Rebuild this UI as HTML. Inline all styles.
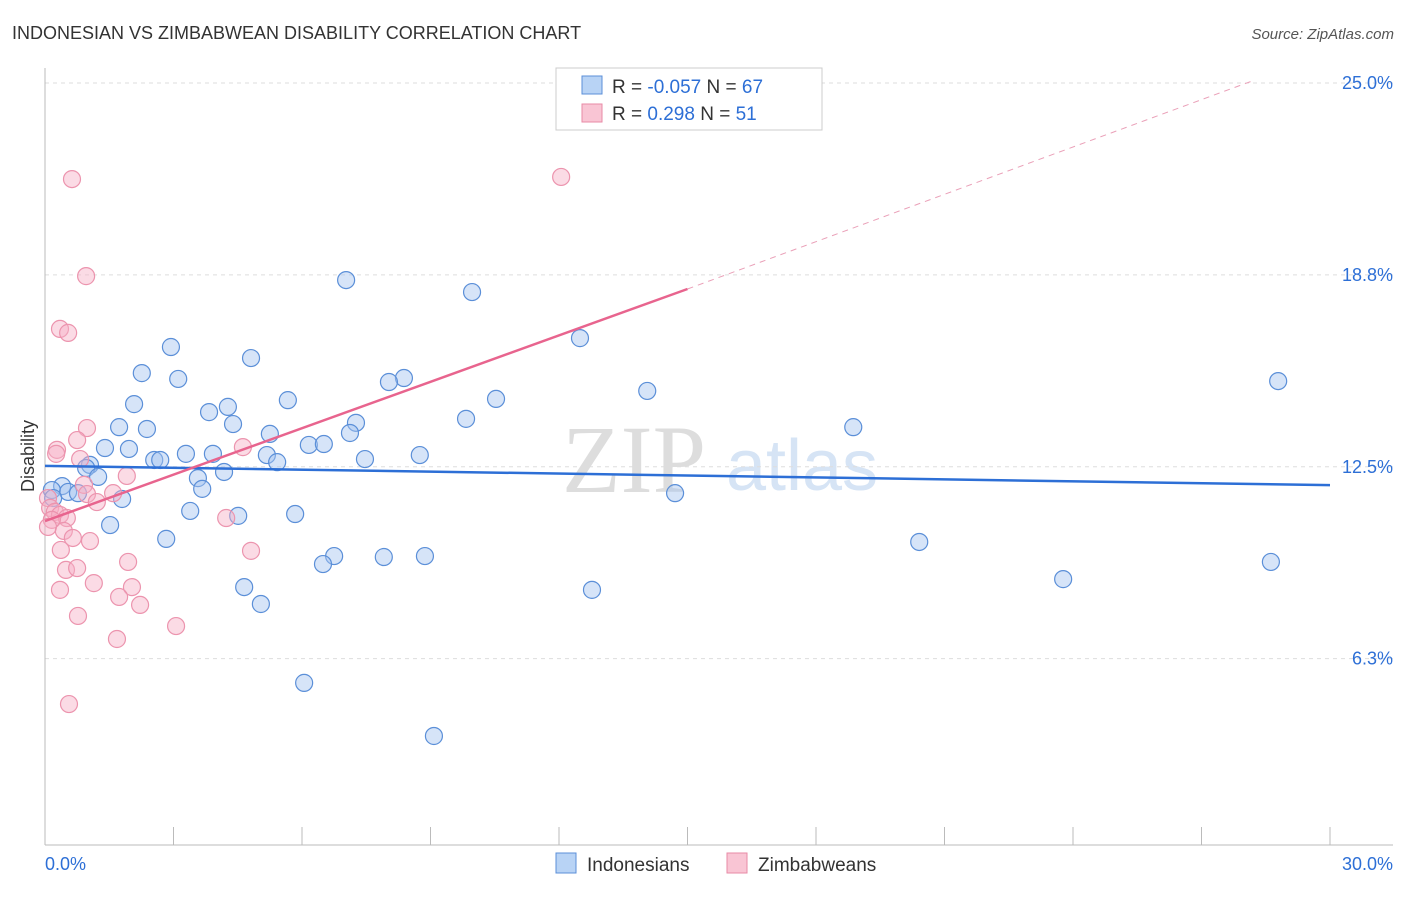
<!DOCTYPE html>
<html><head><meta charset="utf-8"><style>
body{margin:0;background:#fff;font-family:"Liberation Sans",sans-serif}
</style></head><body>
<svg width="1406" height="892" xmlns="http://www.w3.org/2000/svg" id="chart" style="font-family:'Liberation Sans',sans-serif">
<text x="12" y="39" font-size="18" fill="#333">INDONESIAN VS ZIMBABWEAN DISABILITY CORRELATION CHART</text>
<text x="1394" y="39" font-size="15" fill="#555" text-anchor="end" font-style="italic">Source: ZipAtlas.com</text>
<text x="634" y="492" font-size="96" fill="#ddd" font-family="Liberation Serif,serif" text-anchor="middle">ZIP</text>
<text x="802" y="490" font-size="72" fill="#d6e4f5" text-anchor="middle">atlas</text>
<text transform="translate(34,456) rotate(-90)" font-size="18" fill="#333" text-anchor="middle">Disability</text>
<g id="grid"></g><g id="pts"></g><g id="lines"></g>
<g>
<rect x="556" y="68" width="266" height="62" fill="#fff" stroke="#ccc"/>
<rect x="582" y="76" width="20" height="18" fill="#b8d3f5" stroke="#5b8fd8"/>
<rect x="582" y="104" width="20" height="18" fill="#f9c5d4" stroke="#e88aa6"/>
<text x="612" y="93" font-size="19" fill="#333">R = <tspan fill="#2d6fd6">-0.057</tspan>   N = <tspan fill="#2d6fd6">67</tspan></text>
<text x="612" y="120" font-size="19" fill="#333">R =  <tspan fill="#2d6fd6"> 0.298</tspan>   N =  <tspan fill="#2d6fd6">51</tspan></text>
</g>
<g>
<rect x="556" y="853" width="20" height="20" fill="#b8d3f5" stroke="#5b8fd8"/>
<text x="587" y="871" font-size="19" fill="#333">Indonesians</text>
<rect x="727" y="853" width="20" height="20" fill="#f9c5d4" stroke="#e88aa6"/>
<text x="758" y="871" font-size="19" fill="#333">Zimbabweans</text>
</g>
</svg>
<script>
const blueX=[7.03,9.97,12.49,2.94,4.81,2.26,3.11,8.38,8.03,28.79,14.06,5.67,10.53,2.08,3.83,4.27,9.83,1.73,2.38,4.39,7.26,7.12,18.87,5.25,6.16,6.51,1.40,1.96,3.29,3.92,5.18,8.75,2.55,2.69,5.42,7.47,1.05,0.96,4.18,1.24,3.57,3.67,0.40,0.16,0.54,0.77,0.19,14.71,1.80,3.39,4.51,5.84,1.52,2.83,20.41,6.75,6.49,7.91,8.87,28.62,23.77,4.65,12.77,5.04,6.05,9.08];
const blueY=[18.58,18.19,16.69,16.40,16.04,15.55,15.36,15.39,15.26,15.29,14.97,14.67,14.71,14.54,14.28,14.45,14.06,13.79,13.73,13.89,13.93,13.60,13.79,13.57,13.21,13.24,13.11,13.08,12.92,12.92,12.88,12.88,12.72,12.72,12.65,12.75,12.56,12.46,12.33,12.17,12.13,11.78,11.87,11.74,11.68,11.64,11.48,11.64,11.45,11.06,10.90,10.96,10.60,10.15,10.05,9.59,9.33,9.56,9.59,9.40,8.84,8.58,8.49,8.03,5.46,3.73];
const pinkX=[0.63,12.05,0.96,0.35,0.54,0.98,0.75,0.28,0.26,4.62,0.82,1.91,0.91,0.98,1.59,1.21,0.07,0.12,0.23,0.35,0.51,0.16,0.07,0.44,4.23,0.65,1.05,0.37,4.81,1.94,0.49,0.75,1.14,2.03,0.35,1.73,2.22,0.77,3.06,1.68,0.56];
const pinkY=[21.87,21.94,18.71,16.99,16.86,13.76,13.37,13.05,12.92,13.14,12.75,12.20,11.91,11.61,11.64,11.35,11.48,11.16,11.03,10.93,10.83,10.77,10.54,10.41,10.83,10.18,10.08,9.79,9.76,9.40,9.14,9.20,8.71,8.58,8.49,8.26,8.00,7.64,7.31,6.89,4.77];
const yTicks=[25,18.75,12.5,6.25];
const yTickLabels=["25.0%","18.8%","12.5%","6.3%"];
const xTicks=[0,3,6,9,12,15,18,21,24,27,30];
const blueTrend=[12.53,11.9];
const pinkTrend=[10.73,18.29];
const pinkDashEnd=[28.25,25.1];
const NS="http://www.w3.org/2000/svg";
const sx=v=>45+v*(1285/30);
const sy=v=>83+(25-v)*30.7;
function mk(t,a,p){const e=document.createElementNS(NS,t);for(const k in a)e.setAttribute(k,a[k]);document.getElementById(p).appendChild(e);return e;}
yTicks.forEach((t,i)=>{
 const l=mk('line',{x1:45,x2:1393,y1:sy(t),y2:sy(t),stroke:'#ddd','stroke-dasharray':'4,4'},'grid');
 
 
 const tx=mk('text',{x:1393,y:sy(t)+6,'font-size':18,fill:'#2d6fd6','text-anchor':'end'},'grid');
 tx.textContent=yTickLabels[i];
 
 
});
const ax=mk('line',{x1:45,x2:45,y1:68,y2:845,stroke:'#bbb'},'grid');


const bx=mk('line',{x1:45,x2:1393,y1:845,y2:845,stroke:'#bbb'},'grid');


xTicks.forEach(t=>{
 const l=mk('line',{x1:sx(t),x2:sx(t),y1:827,y2:845,stroke:'#bbb'},'grid');
 
 
});
const x0=mk('text',{x:45,y:870,'font-size':18,fill:'#2d6fd6'},'grid');x0.textContent='0.0%';


const x1=mk('text',{x:1393,y:870,'font-size':18,fill:'#2d6fd6','text-anchor':'end'},'grid');x1.textContent='30.0%';


blueX.forEach((v,i)=>{
 const c=mk('circle',{cx:sx(v),cy:sy(blueY[i]),r:8.5,fill:'rgba(164,196,240,0.45)',stroke:'#5b8fd8','stroke-width':1.2},'pts');
 
 
});
pinkX.forEach((v,i)=>{
 const c=mk('circle',{cx:sx(v),cy:sy(pinkY[i]),r:8.5,fill:'rgba(246,176,198,0.45)',stroke:'#ec94ae','stroke-width':1.2},'pts');
 
 
});
const bl=mk('line',{x1:sx(0),y1:sy(blueTrend[0]),x2:sx(30),y2:sy(blueTrend[1]),stroke:'#2d6fd6','stroke-width':2.5},'lines');


const pl=mk('line',{x1:sx(0),y1:sy(pinkTrend[0]),x2:sx(15),y2:sy(pinkTrend[1]),stroke:'#e8648e','stroke-width':2.5},'lines');


const pd=mk('line',{x1:sx(15),y1:sy(pinkTrend[1]),x2:sx(pinkDashEnd[0]),y2:sy(pinkDashEnd[1]),stroke:'#eaa0b8','stroke-width':1,'stroke-dasharray':'6,5'},'lines');


</script>
</body></html>
